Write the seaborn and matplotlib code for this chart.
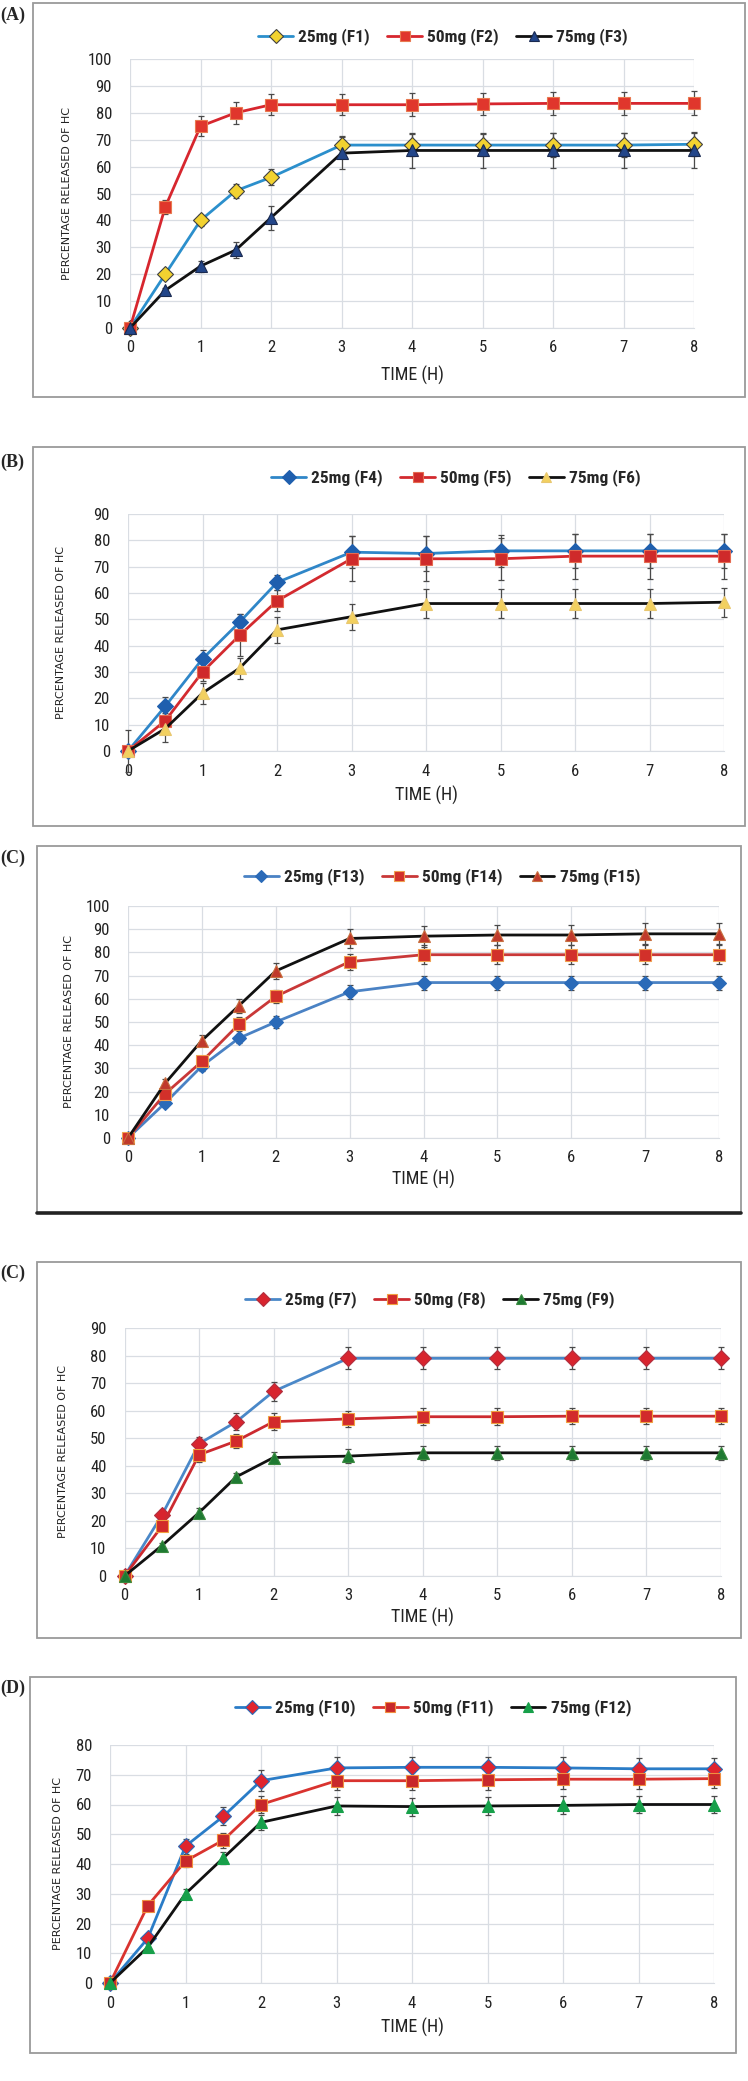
import matplotlib
matplotlib.use("Agg")
import matplotlib.pyplot as plt
from matplotlib import font_manager
from matplotlib.patches import Rectangle
import seaborn as sns
import numpy as np
import pandas as pd

# ---------------- data ----------------
time = [0, 0.5, 1, 1.5, 2, 3, 4, 5, 6, 7, 8]

# Panel A
a_labels = ["25mg (F1)", "50mg (F2)", "75mg (F3)"]
a_f1 = [0, 20, 40, 51, 56, 68, 68, 68, 68, 68, 68.3]
a_f1_err = [0.5, 1.5, 2, 2.5, 3, 3.5, 4, 4, 4.5, 4.5, 4.5]
a_f2 = [0, 45, 75, 80, 83, 83, 83, 83.3, 83.5, 83.5, 83.5]
a_f2_err = [0, 2.5, 3.7, 4, 4, 4, 4.3, 4, 4.3, 4.3, 4.5]
a_f3 = [0, 14, 23, 29, 41, 65, 66, 66, 66, 66, 66]
a_f3_err = [0, 1, 2, 3, 4.5, 6, 6.5, 6.5, 6.5, 6.5, 6.5]

# Panel B
b_labels = ["25mg (F4)", "50mg (F5)", "75mg (F6)"]
b_f4 = [0, 17, 35, 49, 64, 75.5, 75, 76, 76, 76, 76]
b_f4_err = [0, 3.5, 3.5, 3, 3, 6, 6.5, 6, 6.5, 6.5, 6.5]
b_f5 = [0, 11.5, 30, 44, 57, 73, 73, 73, 74, 74, 74]
b_f5_err = [0, 3, 3.5, 8, 4, 8.5, 8.5, 8, 8.5, 8.5, 8.5]
b_f6 = [0, 8.5, 22, 31.5, 46, 51, 56, 56, 56, 56, 56.5]
b_f6_err = [8, 5, 4, 4, 5, 5, 5.5, 5.5, 5.5, 5.5, 5.5]

# Panel C (F13-F15)
c_labels = ["25mg (F13)", "50mg (F14)", "75mg (F15)"]
c_f13 = [0, 15, 31, 43, 50, 63, 67, 67, 67, 67, 67]
c_f13_err = [0, 1.5, 2, 2, 2.5, 3, 3, 3, 3, 3, 3]
c_f14 = [0, 19, 33, 49, 61, 76, 79, 79, 79, 79, 79]
c_f14_err = [0, 2, 2.5, 3, 3, 3.5, 4, 4, 4, 4, 4]
c_f15 = [0, 23.5, 42, 57, 72, 86, 87, 87.5, 87.5, 88, 88]
c_f15_err = [0, 2, 2.5, 3, 3.5, 4, 4.5, 4.5, 4.5, 4.5, 4.5]

# Panel C (F7-F9)
c2_labels = ["25mg (F7)", "50mg (F8)", "75mg (F9)"]
c2_f7 = [0, 22, 48, 56, 67, 79, 79, 79, 79, 79, 79]
c2_f7_err = [0, 2, 2.5, 3, 3.5, 4, 4, 4, 4, 4, 4]
c2_f8 = [0, 18, 44, 49, 56, 57, 57.8, 57.8, 58, 58, 58]
c2_f8_err = [0, 1.5, 2.5, 2.5, 3, 3, 3, 3, 3, 3, 3]
c2_f9 = [0, 11, 23, 36, 43, 43.5, 44.7, 44.7, 44.7, 44.7, 44.7]
c2_f9_err = [0, 1, 1.5, 1.5, 2, 2.5, 2.5, 2.5, 2.5, 2.5, 2.5]

# Panel D
d_labels = ["25mg (F10)", "50mg (F11)", "75mg (F12)"]
d_f10 = [0, 15, 46, 56, 68, 72.3, 72.5, 72.5, 72.3, 72, 72]
d_f10_err = [0, 1.5, 2.5, 3, 3.5, 3.5, 3.5, 3.5, 3.5, 3.5, 3.5]
d_f11 = [0, 26, 41, 48, 60, 68, 68, 68.3, 68.5, 68.5, 68.7]
d_f11_err = [0, 1.5, 2, 2.5, 3, 3, 3, 3.3, 3.3, 3.3, 3.3]
d_f12 = [0, 12, 30, 42, 54, 59.5, 59.3, 59.5, 59.7, 60, 60]
d_f12_err = [0, 1.5, 1.5, 2, 2.5, 3, 3, 3, 3, 3, 3]

x_ticks = [0, 1, 2, 3, 4, 5, 6, 7, 8]

# ---------------- style ----------------
sns.set_style("white")
avail = {f.name for f in font_manager.fontManager.ttflist}
cond = next((f for f in ["Liberation Sans Narrow", "Roboto Condensed", "Open Sans Condensed",
                         "Liberation Sans"] if f in avail), "DejaVu Sans")
print("condensed font:", cond)
plt.rcParams["font.family"] = [cond, "DejaVu Sans"]

W, H = 748, 2081
fig = plt.figure(figsize=(W / 100, H / 100), dpi=100)
fig.patch.set_facecolor("white")

GRID = "#d9dde3"
ERR = "#4a4a4a"

panels = [
    dict(tag="(A)", tag_y=15, frame=(33, 3, 745, 397), ax=(130, 59, 694, 328), ymax=100,
         leg=(443, 37), ylab_dx=-63, xlab_dy=47,
         series=[(a_labels[0], a_f1, a_f1_err, "#2b8fcc", "D", "#f2d230", "#404040", 8),
                 (a_labels[1], a_f2, a_f2_err, "#d7262e", "s", "#e0362c", "#e87a50", 8),
                 (a_labels[2], a_f3, a_f3_err, "#111111", "^", "#23468a", "#1a2a50", 8.5)]),
    dict(tag="(B)", tag_y=462, frame=(33, 447, 745, 826), ax=(128, 514, 724, 751), ymax=90,
         leg=(456, 478), ylab_dx=-67, xlab_dy=44,
         series=[(b_labels[0], b_f4, b_f4_err, "#2f86c8", "D", "#1f5fae", "#1f5fae", 8),
                 (b_labels[1], b_f5, b_f5_err, "#d32a2f", "s", "#cf2a2a", "#e56a50", 8.5),
                 (b_labels[2], b_f6, b_f6_err, "#111111", "^", "#f2d060", "#e8c770", 9)]),
    dict(tag="(C)", tag_y=858, frame=(37, 846, 741, 1213), ax=(128, 906, 719, 1138), ymax=100,
         leg=(442, 877), ylab_dx=-59, xlab_dy=41, thick_bottom=True,
         series=[(c_labels[0], c_f13, c_f13_err, "#4a82c4", "D", "#2a6ab8", "#2a6ab8", 7.5),
                 (c_labels[1], c_f14, c_f14_err, "#c93838", "s", "#d2302a", "#f0a050", 8.5),
                 (c_labels[2], c_f15, c_f15_err, "#111111", "^", "#c0392b", "#c87040", 8.5)]),
    dict(tag="(C)", tag_y=1273, frame=(37, 1262, 741, 1638), ax=(124.5, 1328, 721, 1576), ymax=90,
         leg=(430, 1300), ylab_dx=-62, xlab_dy=41,
         series=[(c2_labels[0], c2_f7, c2_f7_err, "#4a88c8", "D", "#d8242e", "#b03040", 8),
                 (c2_labels[1], c2_f8, c2_f8_err, "#cc2a30", "s", "#d22b2b", "#f0a040", 8),
                 (c2_labels[2], c2_f9, c2_f9_err, "#111111", "^", "#1e7a32", "#3a8a40", 8.5)]),
    dict(tag="(D)", tag_y=1688, frame=(30, 1677, 736, 2053), ax=(110, 1745, 714, 1983), ymax=80,
         leg=(433, 1708), ylab_dx=-52, xlab_dy=44,
         series=[(d_labels[0], d_f10, d_f10_err, "#2a7cc7", "D", "#e0242e", "#2a6ab8", 8),
                 (d_labels[1], d_f11, d_f11_err, "#d9332f", "s", "#c8282a", "#f09040", 9),
                 (d_labels[2], d_f12, d_f12_err, "#111111", "^", "#17a04a", "#17a04a", 9)]),
]

for p in panels:
    fx0, fy0, fx1, fy1 = p["frame"]
    fig.patches.append(Rectangle((fx0 / W, 1 - fy1 / H), (fx1 - fx0) / W, (fy1 - fy0) / H,
                                 transform=fig.transFigure, fill=False,
                                 edgecolor="#9a9a9a", linewidth=1.3))
    if p.get("thick_bottom"):
        fig.add_artist(plt.Line2D([fx0 / W, fx1 / W], [1 - fy1 / H, 1 - fy1 / H],
                                  transform=fig.transFigure, color="#222222", linewidth=2.6))
    fig.text(0.0, 1 - p["tag_y"] / H, p["tag"], ha="left", va="center",
             fontsize=13, fontweight="bold", family=["Liberation Serif", "DejaVu Serif"])

    x0, yt, x1, yb = p["ax"]
    ax = fig.add_axes([x0 / W, 1 - yb / H, (x1 - x0) / W, (yb - yt) / H])
    ax.set_facecolor("white")

    for lab, vals, err, lc, mk, mfc, mec, ms in p["series"]:
        ax.errorbar(time, vals, yerr=err, fmt="none", ecolor=ERR, elinewidth=0.9,
                    capsize=2.5, capthick=0.9, zorder=2, clip_on=False)
        sns.lineplot(x=time, y=vals, ax=ax, color=lc, linewidth=2.0, marker=mk,
                     markersize=ms, markerfacecolor=mfc, markeredgecolor=mec,
                     markeredgewidth=0.8, label=lab, zorder=3, clip_on=False)

    ax.set_xlim(0, 8)
    ax.set_ylim(0, p["ymax"])
    ax.set_xticks(x_ticks)
    ax.set_yticks(np.arange(0, p["ymax"] + 1, 10))
    ax.grid(True, color=GRID, linewidth=0.9)
    ax.set_axisbelow(True)
    for s in ["top", "right", "left"]:
        ax.spines[s].set_visible(False)
    ax.spines["bottom"].set_color(GRID)
    ax.tick_params(axis="both", length=0, labelsize=12, colors="#222222")
    ax.tick_params(axis="y", pad=13)
    ax.tick_params(axis="x", pad=9)

    ax.set_xlabel("TIME (H)", fontsize=13, color="#222222")
    ax.xaxis.set_label_coords(0.5, -p["xlab_dy"] / (yb - yt))
    ax.xaxis.label.set_va("center")
    ax.set_ylabel("PERCENTAGE RELEASED OF HC", fontsize=8, color="#222222",
                  family=["DejaVu Sans"])
    ax.yaxis.set_label_coords(p["ylab_dx"] / (x1 - x0), 0.5)
    ax.yaxis.label.set_va("center")

    ax.legend(loc="center", bbox_to_anchor=(p["leg"][0] / W, 1 - p["leg"][1] / H),
              bbox_transform=fig.transFigure, ncol=3, frameon=False,
              prop={"size": 12.5, "weight": "bold"}, handlelength=2.0,
              handletextpad=0.3, columnspacing=1.0, markerscale=0.85)

fig.savefig("out.png", dpi=100, facecolor="white")
